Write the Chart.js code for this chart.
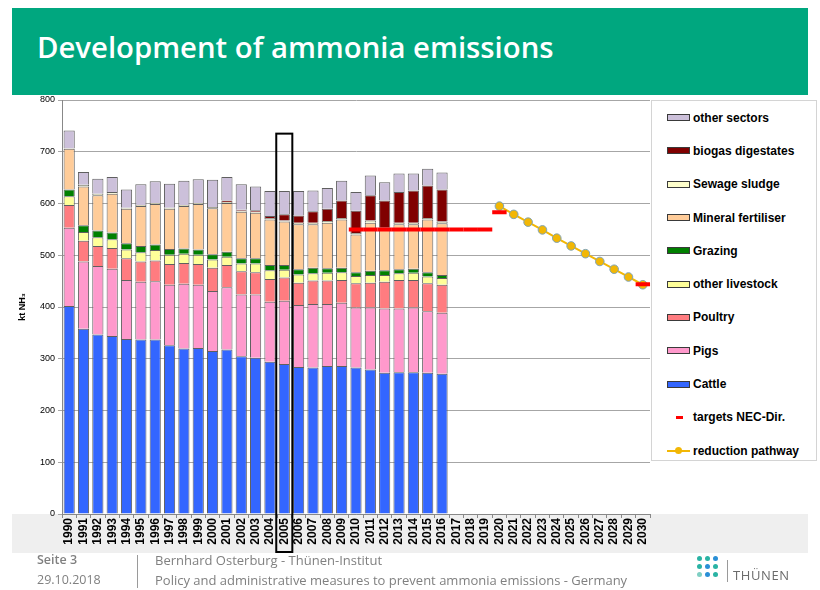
<!DOCTYPE html>
<html lang="en">
<head>
<meta charset="UTF-8" />
<title>Development of ammonia emissions</title>
<script src="https://cdn.jsdelivr.net/npm/chart.js@4"></script>
<style>
  body {
    margin: 0;
    width: 820px;
    height: 590px;
    background: #fff;
    font-family: "Open Sans", Arial, sans-serif;
    position: relative;
    overflow: hidden;
  }
  header {
    position: absolute;
    left: 12px;
    top: 8px;
    width: 796px;
    height: 87px;
    background: #00a77f;
  }
  header h1 {
    margin: 0;
    position: absolute;
    left: 25px;
    top: 19px;
    color: #fff;
    font-size: 29.3px;
    font-weight: 600;
  }
  #chartBox {
    position: absolute;
    left: 12px;
    top: 95px;
    width: 796px;
    height: 458px;
  }
  /* legend on the right of the plot */
  #legend {
    position: absolute;
    left: 651px;
    top: 100px;
    width: 166px;
    height: 361px;
    border: 1px solid #d4d4d4;
    background: #fff;
    box-sizing: border-box;
  }
  .item {
    height: 33.3px;
    display: flex;
    align-items: center;
    font-family: Arial, "Liberation Sans", sans-serif;
    font-weight: bold;
    font-size: 12px;
    color: #000;
    white-space: nowrap;
  }
  .sym {
    position: relative;
    width: 23px;
    height: 7px;
    margin-left: 15px;
    margin-right: 3px;
    box-sizing: border-box;
    flex: none;
  }
  .foot {
    position: absolute;
    color: #808080;
    font-size: 13px;
    white-space: nowrap;
  }
  .dot {
    position: absolute;
    width: 5px;
    height: 5px;
    border-radius: 50%;
  }
</style>
</head>
<body>
  <header><h1>Development of ammonia emissions</h1></header>

  <div id="chartBox"><canvas id="chart" width="796" height="458"></canvas></div>
  <div id="legend"></div>

  <div class="foot" style="left:37px;top:551px;font-weight:600;font-size:12.5px;">Seite 3</div>
  <div class="foot" style="left:37px;top:571px;font-size:12.5px;">29.10.2018</div>
  <div style="position:absolute;left:137px;top:555px;width:1px;height:33px;background:#9a9a9a;"></div>
  <div class="foot" style="left:155px;top:551px;">Bernhard Osterburg - Thünen-Institut</div>
  <div class="foot" style="left:155px;top:571px;">Policy and administrative measures to prevent ammonia emissions - Germany</div>

  <div id="logo" style="position:absolute;left:697px;top:556px;width:26px;height:26px;"></div>
  <div style="position:absolute;left:727px;top:560px;width:1px;height:22px;background:#9a9a9a;"></div>
  <div class="foot" style="left:733px;top:566px;color:#6b6b6b;letter-spacing:0.6px;">THÜNEN</div>

<script>
  // categories
  const years = ['1990','1991','1992','1993','1994','1995','1996','1997','1998','1999',
                 '2000','2001','2002','2003','2004','2005','2006','2007','2008','2009',
                 '2010','2011','2012','2013','2014','2015','2016','2017','2018','2019',
                 '2020','2021','2022','2023','2024','2025','2026','2027','2028','2029','2030'];

  // kt NH3 per source, 1990 - 2016
  const cattle        = [402,358,347,344,338,337,337,326,320,321,315,318,305,302,294,290,284,283,286,286,283,279,273,274,274,273,271];
  const pigs          = [151,130,132,130,114,112,113,117,125,122,116,120,119,122,116,122,120,123,120,122,116,120,124,123,125,119,118];
  const poultry       = [44,40,39,40,42,39,40,40,40,40,45,43,45,43,44,45,43,45,45,44,47,48,52,55,53,54,54];
  const otherLivest   = [17,17,17,17,17,18,20,18,18,18,16,16,15,17,17,15,16,14,15,15,14,15,13,13,14,13,13];
  const grazing       = [13,13,13,13,12,12,11,11,10,10,10,10,10,10,10,9,10,11,9,9,7,8,9,8,8,8,6];
  const mineralFert   = [79,75,68,75,67,77,78,78,82,88,89,94,90,88,88,84,87,84,88,93,73,93,79,87,86,102,100];
  const sewageSludge  = [1,3,3,3,2,2,2,2,2,2,2,2,2,2,3,2,3,3,3,3,3,4,3,3,3,3,3];
  const biogas        = [0,0,0,0,0,0,0,0,0,0,0,3,2,3,4,12,14,22,24,34,43,49,53,59,62,63,62];
  const otherSectors  = [34,25,29,29,35,40,42,46,47,46,53,45,49,46,48,45,47,40,40,38,36,38,35,36,33,32,33];

  // NEC directive targets and reduction pathway, 1990 - 2030
  const necTargets = [null,null,null,null,null,null,null,null,null,null,
                      null,null,null,null,null,null,null,null,null,null,
                      550,550,550,550,550,550,550,550,550,550,
                      583,null,null,null,null,null,null,null,null,null,444];
  const pathway    = [null,null,null,null,null,null,null,null,null,null,
                      null,null,null,null,null,null,null,null,null,null,
                      null,null,null,null,null,null,null,null,null,null,
                      595,579,564,549,533,518,503,488,473,458,443];

  // y ticks
  const yMin = 0, yMax = 800, yStep = 100;
  const boxYear = '2005', boxTop = 735;

  // stacking order: bottom to top
  const barNames  = ['Cattle','Pigs','Poultry','other livestock','Grazing','Mineral fertiliser','Sewage sludge','biogas digestates','other sectors'];
  const barData   = [cattle, pigs, poultry, otherLivest, grazing, mineralFert, sewageSludge, biogas, otherSectors];
  const barColors = ['#3366ff','#ff99cc','#ff7c80','#ffff99','#008000','#ffcc99','#ffffcc','#800000','#ccc0da'];
  const pathColor = '#f2b705';
  const targetColor = '#ff0000';

  const datasets = barNames.map((name, i) => ({
    type: 'bar',
    label: name,
    data: barData[i],
    backgroundColor: barColors[i],
    borderColor: '#5f5f5f',
    borderWidth: 1,
    barPercentage: 0.78,
    categoryPercentage: 1,
    stack: 'src',
    order: 1
  }));

  datasets.push({
    type: 'line',
    label: 'targets NEC-Dir.',
    data: necTargets,
    showLine: false,
    pointStyle: 'line',
    pointRadius: 7.2,
    pointBorderWidth: 4,
    pointBorderColor: targetColor,
    borderColor: targetColor,
    stack: 'tgt',
    order: -1
  });

  datasets.push({
    type: 'line',
    label: 'reduction pathway',
    data: pathway,
    borderColor: pathColor,
    borderWidth: 2,
    pointRadius: 4.3,
    pointBackgroundColor: pathColor,
    pointBorderColor: '#7ea3b8',
    pointBorderWidth: 1,
    stack: 'path',
    order: 0
  });

  // grey band behind the year labels
  const labelBand = {
    id: 'labelBand',
    beforeDraw(chart) {
      const { ctx, chartArea } = chart;
      ctx.save();
      ctx.fillStyle = '#efefef';
      ctx.fillRect(0, chartArea.bottom, chart.width, chart.height - chartArea.bottom);
      ctx.restore();
    }
  };

  // black frame around the 2005 reference year
  const yearFrame = {
    id: 'yearFrame',
    afterDatasetsDraw(chart) {
      const { ctx, chartArea } = chart;
      const x = chart.scales.x, y = chart.scales.y;
      const i = years.indexOf(boxYear);
      const half = (x.getPixelForValue(1) - x.getPixelForValue(0)) * 0.56;
      const cx = x.getPixelForValue(i);
      const top = y.getPixelForValue(boxTop);
      const bottom = chartArea.bottom + 38;
      ctx.save();
      ctx.strokeStyle = '#000';
      ctx.lineWidth = 2;
      ctx.strokeRect(cx - half, top, half * 2, bottom - top);
      ctx.restore();
    }
  };

  new Chart(document.getElementById('chart'), {
    data: { labels: years, datasets: datasets },
    plugins: [labelBand, yearFrame],
    options: {
      responsive: false,
      animation: false,
      devicePixelRatio: 1,
      layout: { autoPadding: false, padding: { top: 5, right: 158, left: 0, bottom: 0 } },
      plugins: {
        legend: { display: false },
        tooltip: { enabled: false }
      },
      scales: {
        x: {
          stacked: true,
          grid: { display: true, drawOnChartArea: false, tickLength: 4, color: '#888', offset: true },
          border: { color: '#888' },
          ticks: {
            autoSkip: false,
            minRotation: 90,
            maxRotation: 90,
            padding: 0,
            color: '#000',
            font: { family: 'Arial', size: 12, weight: 'bold' }
          },
          afterFit(s) { s.height = 39; }
        },
        y: {
          stacked: true,
          min: yMin,
          max: yMax,
          ticks: { stepSize: yStep, padding: 3, color: '#000', font: { family: 'Arial', size: 9 } },
          grid: { color: '#a6a6a6', tickLength: 4 },
          border: { color: '#888' },
          title: { display: true, text: 'kt NH₃', color: '#000', padding: { top: 5, bottom: 0 }, font: { family: 'Arial', size: 9, weight: 'bold' } },
          afterFit(s) { s.width = 50; s.paddingTop = 0; s.paddingBottom = 0; }
        }
      }
    }
  });

  // legend: sources top-down, then targets and pathway
  const legend = document.getElementById('legend');
  const order = [8, 7, 6, 5, 4, 3, 2, 1, 0];
  order.forEach(i => {
    const row = document.createElement('div');
    row.className = 'item';
    const sym = document.createElement('span');
    sym.className = 'sym';
    sym.style.background = barColors[i];
    sym.style.border = '1.5px solid #3a3a3a';
    row.appendChild(sym);
    row.appendChild(document.createTextNode(barNames[i]));
    legend.appendChild(row);
  });

  let row = document.createElement('div');
  row.className = 'item';
  row.innerHTML = '<span class="sym"><span style="position:absolute;left:9px;top:2px;width:7px;height:3px;background:' + targetColor + '"></span></span>targets NEC-Dir.';
  legend.appendChild(row);

  row = document.createElement('div');
  row.className = 'item';
  row.innerHTML = '<span class="sym"><span style="position:absolute;left:0;top:2.5px;width:23px;height:2px;background:' + pathColor + '"></span>' +
    '<span style="position:absolute;left:8px;top:0;width:7px;height:7px;border-radius:50%;background:' + pathColor + '"></span></span>reduction pathway';
  legend.appendChild(row);

  // little dot logo
  const dots = [[0,0,'#2ab3a4'],[8,0,'#2ab3a4'],[16,0,'#2a8fd6'],[0,8,'#2ab3a4'],[8,8,'#2a8fd6'],[16,8,'#2ab3a4'],[8,16,'#2a8fd6'],[16,16,'#2ab3a4'],[0,16,'#7fcfc3']];
  const logo = document.getElementById('logo');
  dots.forEach(d => {
    const el = document.createElement('span');
    el.className = 'dot';
    el.style.left = d[0] + 'px';
    el.style.top = d[1] + 'px';
    el.style.background = d[2];
    logo.appendChild(el);
  });
</script>
</body>
</html>
